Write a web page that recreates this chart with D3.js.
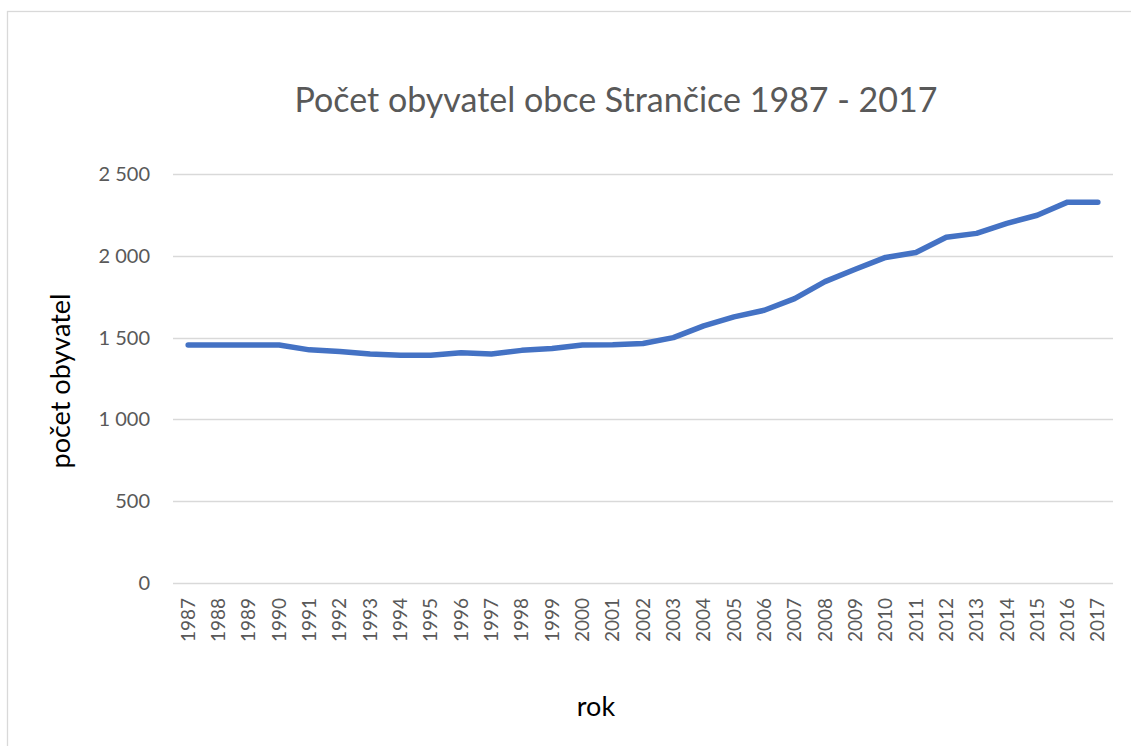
<!DOCTYPE html>
<meta charset="utf-8">
<style>
body { margin: 0; background: #fff; }
text { font-family: Lato, "Open Sans", sans-serif; }
.grid line { stroke: #d9d9d9; stroke-width: 1.3; }
</style>
<svg width="1131" height="746"></svg>
<script src="https://cdnjs.cloudflare.com/ajax/libs/d3/7.8.5/d3.min.js"></script>
<script>
"use strict";

// data
var years = [1987,1988,1989,1990,1991,1992,1993,1994,1995,1996,1997,1998,1999,2000,2001,
             2002,2003,2004,2005,2006,2007,2008,2009,2010,2011,2012,2013,2014,2015,2016,2017];
var population = [1455,1455,1455,1455,1425,1415,1400,1392,1392,1408,1400,1422,1433,1455,1457,
                  1464,1500,1572,1627,1667,1738,1842,1918,1990,2020,2113,2137,2198,2248,2328,2328];
var yTicks = [0,500,1000,1500,2000,2500];

var svg = d3.select("svg");

// outer frame (right and bottom edges fall outside the picture)
svg.append("rect")
    .attr("x", 7.5).attr("y", 11.5)
    .attr("width", 1140).attr("height", 760)
    .attr("fill", "none")
    .attr("stroke", "#d9d9d9")
    .attr("stroke-width", 1.3);

var x = d3.scaleBand().domain(years).range([173, 1113]);
var y = d3.scaleLinear().domain([0, 2500]).range([583, 174]);

var fmt = function(d) { return d3.format(",")(d).replace(/,/g, " "); };

// gridlines
svg.append("g")
    .attr("class", "grid")
    .selectAll("line")
    .data(yTicks)
    .enter().append("line")
      .attr("x1", 173).attr("x2", 1113)
      .attr("y1", function(d) { return Math.round(y(d)) + 0.5; })
      .attr("y2", function(d) { return Math.round(y(d)) + 0.5; });

// y axis labels
var yAxis = svg.append("g")
    .attr("transform", "translate(173,0)")
    .call(d3.axisLeft(y).tickValues(yTicks).tickSize(0).tickPadding(23).tickFormat(fmt));
yAxis.select(".domain").remove();
yAxis.selectAll("text")
    .attr("fill", "#595959")
    .style("font-size", "20px")
    .style("font-family", "Lato, 'Open Sans', sans-serif");

// x axis labels
var xAxis = svg.append("g")
    .attr("transform", "translate(0,583)")
    .call(d3.axisBottom(x).tickSize(0).tickPadding(0));
xAxis.select(".domain").remove();
xAxis.selectAll("text")
    .attr("fill", "#595959")
    .style("font-size", "19px")
    .style("font-family", "Lato, 'Open Sans', sans-serif")
    .attr("text-anchor", "end")
    .attr("dy", "0.35em")
    .attr("transform", "translate(0,15) rotate(-90)")
    .attr("x", 0).attr("y", 0);

// line
var line = d3.line()
    .x(function(d, i) { return x(years[i]) + x.bandwidth() / 2; })
    .y(function(d) { return y(d); });

svg.append("path")
    .datum(population)
    .attr("d", line)
    .attr("fill", "none")
    .attr("stroke", "#4472c4")
    .attr("stroke-width", 5.5)
    .attr("stroke-linecap", "round")
    .attr("stroke-linejoin", "round");

// titles
svg.append("text")
    .attr("x", 616).attr("y", 112)
    .attr("text-anchor", "middle")
    .attr("fill", "#595959")
    .style("font-size", "34px")
    .text("Počet obyvatel obce Strančice 1987 - 2017");

svg.append("text")
    .attr("transform", "translate(70,381) rotate(-90)")
    .attr("text-anchor", "middle")
    .attr("fill", "#000")
    .style("font-size", "27px")
    .text("počet obyvatel");

svg.append("text")
    .attr("x", 596).attr("y", 716)
    .attr("text-anchor", "middle")
    .attr("fill", "#000")
    .style("font-size", "27px")
    .text("rok");
</script>
